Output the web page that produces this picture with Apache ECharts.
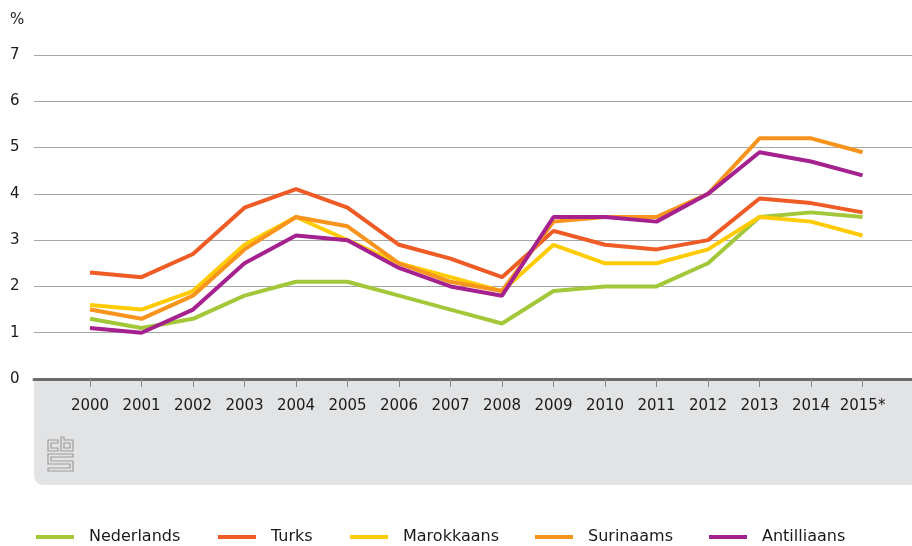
<!DOCTYPE html>
<html>
<head>
<meta charset="utf-8">
<script src="https://cdn.jsdelivr.net/npm/echarts@6/dist/echarts.min.js"></script>
<style>html,body{margin:0;padding:0;background:#fff}#c{width:912px;height:546px}</style>
</head>
<body>
<div id="c"></div>
<script>
var years = ['2000','2001','2002','2003','2004','2005','2006','2007','2008','2009','2010','2011','2012','2013','2014','2015*'];
var yTicks = [0,1,2,3,4,5,6,7];
var nederlands  = [1.3,1.1,1.3,1.8,2.1,2.1,1.8,1.5,1.2,1.9,2.0,2.0,2.5,3.5,3.6,3.5];
var turks       = [2.3,2.2,2.7,3.7,4.1,3.7,2.9,2.6,2.2,3.2,2.9,2.8,3.0,3.9,3.8,3.6];
var marokkaans  = [1.6,1.5,1.9,2.9,3.5,3.0,2.5,2.2,1.9,2.9,2.5,2.5,2.8,3.5,3.4,3.1];
var surinaams   = [1.5,1.3,1.8,2.8,3.5,3.3,2.5,2.1,1.9,3.4,3.5,3.5,4.0,5.2,5.2,4.9];
var antilliaans = [1.1,1.0,1.5,2.5,3.1,3.0,2.4,2.0,1.8,3.5,3.5,3.4,4.0,4.9,4.7,4.4];
var seriesNames = ['Nederlands','Turks','Marokkaans','Surinaams','Antilliaans'];
var seriesData = [nederlands, turks, marokkaans, surinaams, antilliaans];
var colors = ['#a2c83a','#ee5b24','#ffcb05','#f7941d','#a4218e'];

var FONT = "'DejaVu Sans', sans-serif";
var chart = echarts.init(document.getElementById('c'));
var legendLefts = [36, 218, 350, 535, 709];

var option = {
  animation: false,
  color: colors,
  grid: { left: 34, right: 0, top: 55, bottom: 167 },
  xAxis: {
    type: 'value',
    min: -1.087,
    max: 15.96,
    axisLine: { show: true, onZero: false, lineStyle: { color: '#6b6b6b', width: 3 } },
    splitLine: { show: false },
    axisTick: { show: true, customValues: years.map(function(_, i){ return i; }), length: 8, lineStyle: { color: '#8a8a8a', width: 1 } },
    axisLabel: {
      customValues: years.map(function(_, i){ return i; }),
      formatter: function (v) { return years[Math.round(v)]; },
      fontFamily: FONT, fontSize: 15, color: '#1a1a1a', margin: 20
    }
  },
  yAxis: {
    type: 'value', min: 0, max: 7, interval: 1,
    axisLine: { show: false }, axisTick: { show: false },
    splitLine: { lineStyle: { color: '#a6a6a6', width: 1 } },
    axisLabel: {
      formatter: function (v) { return yTicks.indexOf(v) >= 0 ? String(v) : ''; },
      fontFamily: FONT, fontSize: 15, color: '#1a1a1a', align: 'left', margin: 24
    }
  },
  legend: seriesNames.map(function (n, i) {
    return {
      data: [n], left: legendLefts[i], top: 529, padding: 0,
      icon: 'rect', itemWidth: 38, itemHeight: 4, itemGap: 0,
      selectedMode: false,
      textStyle: { fontFamily: FONT, fontSize: 16, color: '#1a1a1a', padding: [0, 0, 0, 10] }
    };
  }),
  graphic: [
    { type: 'rect', z: -10, shape: { x: 34, y: 379, width: 878, height: 106, r: [0, 0, 0, 9] }, style: { fill: '#e2e3e5' } },
    { type: 'text', left: 10, top: 13, style: { text: '%', font: '15px ' + FONT, fill: '#1a1a1a' } },
    { type: 'group', x: 48, y: 437, z: -5, children: [
      { type: 'polygon', shape: { points: [[10,3],[0,3],[0,14],[10,14],[10,11],[3,11],[3,6],[10,6]] }, style: { fill: 'none', stroke: '#9c9c9c', lineWidth: 1.2 } },
      { type: 'polygon', shape: { points: [[13,0],[16,0],[16,3],[25,3],[25,14],[13,14]] }, style: { fill: 'none', stroke: '#9c9c9c', lineWidth: 1.2 } },
      { type: 'rect', shape: { x: 16, y: 6, width: 6, height: 5 }, style: { fill: 'none', stroke: '#9c9c9c', lineWidth: 1.2 } },
      { type: 'polygon', shape: { points: [[25,17],[0,17],[0,27],[22,27],[22,31],[0,31],[0,34],[25,34],[25,24],[3,24],[3,20],[25,20]] }, style: { fill: 'none', stroke: '#9c9c9c', lineWidth: 1.2 } }
    ]}
  ],
  series: seriesNames.map(function (n, i) {
    return {
      name: n, type: 'line', symbol: 'none',
      lineStyle: { width: 4, color: colors[i] },
      itemStyle: { color: colors[i] },
      data: seriesData[i].map(function (v, j) { return [j, v]; })
    };
  })
};
chart.setOption(option);
</script>
</body>
</html>
